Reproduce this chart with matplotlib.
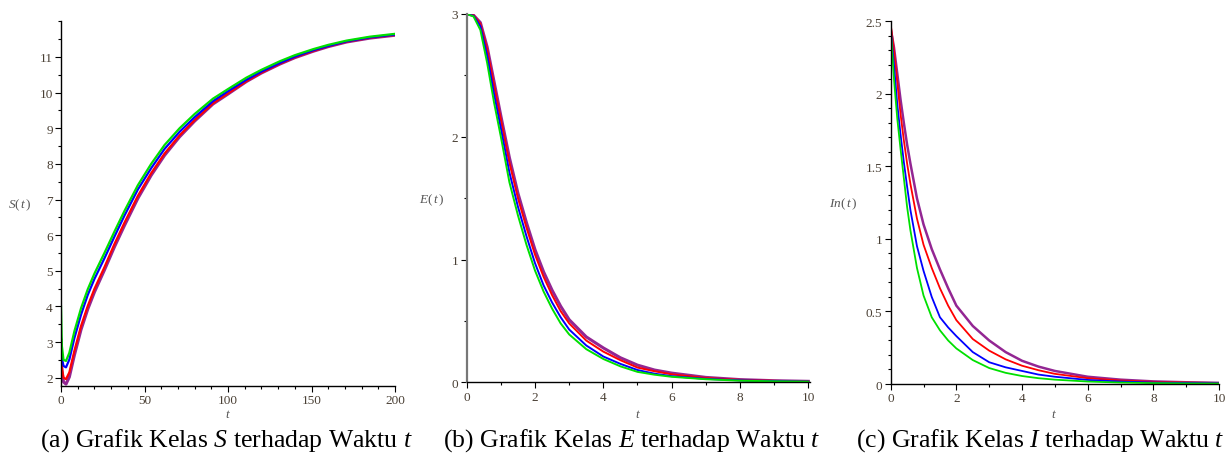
import matplotlib
matplotlib.use('Agg')
import matplotlib.pyplot as plt
from matplotlib.ticker import MultipleLocator

plt.rcParams['font.family'] = ['Liberation Serif', 'DejaVu Serif']
plt.rcParams['mathtext.fontset'] = 'custom'
plt.rcParams['mathtext.rm'] = 'Liberation Serif'
plt.rcParams['mathtext.it'] = 'Liberation Serif:italic'

# ---- data ----
# (a) S(t)
t_s = [0, 0.5, 1.5, 3, 5, 8, 12, 16, 20, 26, 32, 38, 46, 54, 62, 71, 80, 91,
       100, 111, 120, 131, 140, 151, 160, 171, 185, 200]
s_green = [4.0, 2.9, 2.5, 2.47, 2.7, 3.3, 3.95, 4.48, 4.92, 5.5, 6.1, 6.68, 7.4, 8.0,
           8.53, 9.0, 9.4, 9.83, 10.1, 10.42, 10.64, 10.88, 11.05, 11.22, 11.34, 11.46, 11.57, 11.65]
s_blue = [3.1, 2.55, 2.33, 2.29, 2.51, 3.11, 3.77, 4.32, 4.77, 5.35, 5.96, 6.55, 7.28, 7.88,
          8.42, 8.9, 9.31, 9.76, 10.04, 10.36, 10.59, 10.83, 11.01, 11.19, 11.31, 11.44, 11.55, 11.63]
s_red = [3.1, 2.3, 2.0, 1.96, 2.15, 2.75, 3.45, 4.01, 4.49, 5.1, 5.75, 6.35, 7.1, 7.74,
         8.29, 8.8, 9.23, 9.7, 9.98, 10.32, 10.56, 10.81, 10.99, 11.17, 11.3, 11.43, 11.54, 11.62]
s_purple = [3.05, 2.2, 1.88, 1.82, 2.02, 2.63, 3.35, 3.92, 4.4, 5.02, 5.67, 6.27, 7.03, 7.68,
            8.24, 8.76, 9.2, 9.68, 9.96, 10.31, 10.55, 10.8, 10.98, 11.16, 11.29, 11.42, 11.53, 11.61]

# (b) E(t)
t_e = [0, 0.2, 0.4, 0.6, 0.8, 1.0, 1.25, 1.5, 1.75, 2.0, 2.25, 2.5, 2.75, 3.0,
       3.5, 4.0, 4.5, 5.0, 5.5, 6, 7, 8, 9, 10]
e_green = [3.0, 2.98, 2.87, 2.60, 2.28, 2.0, 1.63, 1.36, 1.12, 0.91, 0.74, 0.60, 0.48, 0.39,
           0.27, 0.19, 0.13, 0.085, 0.062, 0.045, 0.025, 0.013, 0.008, 0.005]
e_blue = [3.0, 2.985, 2.9, 2.66, 2.35, 2.07, 1.71, 1.43, 1.19, 0.97, 0.79, 0.65, 0.53, 0.43,
          0.30, 0.21, 0.15, 0.10, 0.07, 0.05, 0.028, 0.016, 0.01, 0.006]
e_red = [3.0, 2.99, 2.92, 2.71, 2.42, 2.14, 1.79, 1.50, 1.26, 1.04, 0.86, 0.71, 0.58, 0.48,
         0.34, 0.25, 0.18, 0.12, 0.09, 0.065, 0.035, 0.02, 0.012, 0.007]
e_purple = [3.0, 2.99, 2.93, 2.73, 2.45, 2.17, 1.83, 1.54, 1.30, 1.08, 0.90, 0.75, 0.62, 0.51,
            0.37, 0.28, 0.20, 0.14, 0.10, 0.075, 0.04, 0.022, 0.013, 0.008]

# (c) In(t)
t_i = [0, 0.1, 0.2, 0.3, 0.4, 0.5, 0.6, 0.8, 1.0, 1.25, 1.5, 1.75, 2.0, 2.5,
       3.0, 3.5, 4.0, 4.5, 5, 6, 7, 8, 9, 10]
i_green = [2.45, 2.1, 1.83, 1.62, 1.42, 1.22, 1.06, 0.80, 0.61, 0.46, 0.37, 0.30, 0.245, 0.165,
           0.11, 0.077, 0.055, 0.04, 0.03, 0.017, 0.01, 0.006, 0.004, 0.003]
i_blue = [2.45, 2.2, 1.93, 1.72, 1.53, 1.36, 1.2, 0.95, 0.78, 0.60, 0.46, 0.39, 0.33, 0.22,
          0.15, 0.115, 0.09, 0.065, 0.05, 0.028, 0.017, 0.01, 0.007, 0.005]
i_red = [2.48, 2.3, 2.08, 1.86, 1.68, 1.52, 1.38, 1.14, 0.96, 0.80, 0.66, 0.54, 0.44, 0.31,
         0.23, 0.17, 0.126, 0.095, 0.07, 0.04, 0.024, 0.015, 0.01, 0.007]
i_purple = [2.45, 2.32, 2.14, 1.96, 1.8, 1.65, 1.52, 1.28, 1.1, 0.93, 0.79, 0.66, 0.54, 0.40,
            0.30, 0.22, 0.16, 0.12, 0.09, 0.05, 0.03, 0.018, 0.012, 0.008]

captions = [r'(a) Grafik Kelas $S$ terhadap Waktu $t$',
            r'(b) Grafik Kelas $E$ terhadap Waktu $t$',
            r'(c) Grafik Kelas $I$ terhadap Waktu $t$']
ylabels = [r'$S(\,t\,)$', r'$E(\,t\,)$', r'$In(\,t\,)$']

W, H = 1229, 460
fig = plt.figure(figsize=(W / 100, H / 100), dpi=100)


def px_axes(x0, x1, ytop, ybot):
    return fig.add_axes([x0 / W, 1 - ybot / H, (x1 - x0) / W, (ybot - ytop) / H])


def style(ax, xmaj, xmin, ymaj, ymin):
    for s in ('top', 'right'):
        ax.spines[s].set_visible(False)
    for s in ('left', 'bottom'):
        ax.spines[s].set_linewidth(1.0)
    ax.xaxis.set_major_locator(MultipleLocator(xmaj))
    ax.xaxis.set_minor_locator(MultipleLocator(xmin))
    ax.yaxis.set_major_locator(MultipleLocator(ymaj))
    ax.yaxis.set_minor_locator(MultipleLocator(ymin))
    ax.tick_params(which='major', length=4, width=0.8, labelsize=9.5,
                   labelcolor='#4a4035', pad=2)
    ax.tick_params(which='minor', length=2.5, width=0.8)


colors = {'purple': '#800080', 'red': '#ff0000', 'blue': '#0000ff', 'green': '#00e000'}

# panel a
ax1 = px_axes(61, 395, 22, 387)
ax1.plot(t_s, s_purple, color=colors['purple'], lw=2.2, alpha=0.85)
ax1.plot(t_s, s_red, color=colors['red'], lw=1.6)
ax1.plot(t_s, s_blue, color=colors['blue'], lw=1.6)
ax1.plot(t_s, s_green, color=colors['green'], lw=1.6)
ax1.set_xlim(0, 200)
ax1.set_ylim(1.767, 12.01)
style(ax1, 50, 10, 1, 0.5)
ax1.set_yticks(range(2, 12))

# panel b
ax2 = px_axes(466.7, 810, 15, 383.3)
ax2.plot(t_e, e_purple, color=colors['purple'], lw=2.2, alpha=0.85)
ax2.plot(t_e, e_red, color=colors['red'], lw=1.4)
ax2.plot(t_e, e_blue, color=colors['blue'], lw=1.4)
ax2.plot(t_e, e_green, color=colors['green'], lw=1.4)
ax2.set_xlim(0, 10.05)
ax2.set_ylim(0, 3)
style(ax2, 2, 1, 1, 0.5)
ax2.spines['left'].set_color('#777777')
ax2.spines['left'].set_linewidth(1.6)

# panel c
ax3 = px_axes(890.7, 1219, 22.3, 385)
ax3.plot(t_i, i_purple, color=colors['purple'], lw=1.8, alpha=0.85)
ax3.plot(t_i, i_red, color=colors['red'], lw=1.3)
ax3.plot(t_i, i_blue, color=colors['blue'], lw=1.3)
ax3.plot(t_i, i_green, color=colors['green'], lw=1.3)
ax3.set_xlim(0, 10)
ax3.set_ylim(0, 2.5)
style(ax3, 2, 1, 0.5, 0.1)
ax3.set_yticks([0, 0.5, 1, 1.5, 2, 2.5])
ax3.set_yticklabels(['0', '0.5', '1', '1.5', '2', '2.5'])


def ftext(x, y, s, **kw):
    fig.text(x / W, 1 - y / H, s, **kw)


# axis labels
for x, y, s in [(20, 205, ylabels[0]), (432, 200, ylabels[1]), (843, 204, ylabels[2])]:
    ftext(x, y, s, fontsize=9.5, color='#555555', ha='center', va='center')
for x in (228, 638, 1054):
    ftext(x, 415, r'$t$', fontsize=9.5, color='#555555', ha='center', va='center')

# captions
for x, s in zip((226, 632, 1040), captions):
    ftext(x, 441, s, fontsize=18.5, color='black', ha='center', va='center')

fig.savefig('out.png', dpi=100)
